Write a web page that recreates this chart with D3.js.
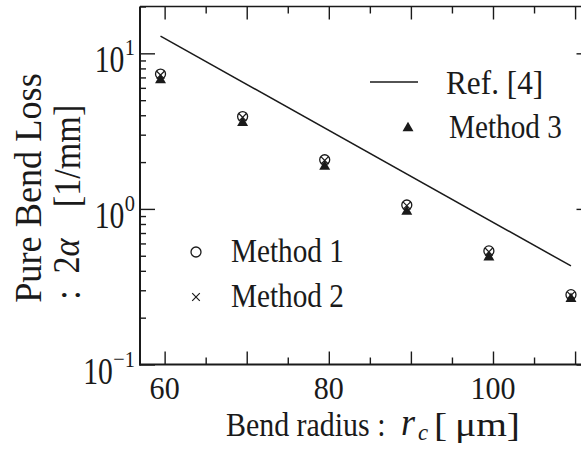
<!DOCTYPE html>
<html><head><meta charset="utf-8">
<script src="https://cdn.jsdelivr.net/npm/d3@7"></script>
<style>
html,body{margin:0;padding:0;background:#fff;}
svg{display:block;}
text{font-family:"Liberation Serif","Times New Roman",serif;fill:#1a1a1a;}
</style></head>
<body>
<svg id="chart" width="581" height="452"></svg>
<script>
// ---- data ----
const radius = [59.5, 69.5, 79.5, 89.5, 99.5, 109.5];
const method1 = [7.36, 3.92, 2.07, 1.06, 0.537, 0.281];
const method2 = [7.25, 3.88, 2.05, 1.05, 0.53, 0.278];
const method3 = [6.74, 3.58, 1.87, 0.96, 0.489, 0.264];
const refRadius = [59.5, 109.5];
const ref4 = [12.9, 0.43];
const xMajorTicks = [60, 70, 80, 90, 100, 110];
const xMinorTicks = [65, 75, 85, 95, 105];
const xTickLabels = [60, 80, 100];
const yMajorTicks = [0.1, 1, 10];
const yTickExp = ["\u22121", "0", "1"];
const legendLabels = ["Ref. [4]", "Method 3", "Method 1", "Method 2"];

const svg = d3.select("#chart");
const ink = "#1a1a1a";
const L = 140, R = 591.5, T = 6.5, B = 364.5;
const x = d3.scaleLinear().domain([57, 112]).range([L, R]);
const y = d3.scaleLog().domain([0.1, 20]).range([B, T]);

function txt(px, py, str, size, sx, anchor, rot) {
  return svg.append("text")
    .attr("transform", `translate(${px},${py})` + (rot ? ` rotate(${rot})` : "") + ` scale(${sx},1)`)
    .attr("font-size", size)
    .attr("text-anchor", anchor || "start")
    .text(str);
}

// ---- frame ----
svg.append("line").attr("x1", L).attr("x2", L).attr("y1", T).attr("y2", B + 1).attr("stroke", ink).attr("stroke-width", 2);
svg.append("line").attr("x1", L - 1).attr("x2", R).attr("y1", B).attr("y2", B).attr("stroke", ink).attr("stroke-width", 2);
svg.append("line").attr("x1", L).attr("x2", R).attr("y1", T).attr("y2", T).attr("stroke", ink).attr("stroke-width", 1.5);
svg.append("line").attr("x1", R).attr("x2", R).attr("y1", T).attr("y2", B).attr("stroke", ink).attr("stroke-width", 1.5);

// x ticks bottom & top
const xAxisB = d3.axisBottom(x).tickValues(xMajorTicks).tickSize(-13).tickFormat("");
const xAxisBm = d3.axisBottom(x).tickValues(xMinorTicks).tickSize(-7).tickFormat("");
const xAxisT = d3.axisTop(x).tickValues(xMajorTicks).tickSize(-13).tickFormat("");
const xAxisTm = d3.axisTop(x).tickValues(xMinorTicks).tickSize(-7).tickFormat("");
[[xAxisB, B], [xAxisBm, B], [xAxisT, T], [xAxisTm, T]].forEach(([ax, pos]) => {
  const g = svg.append("g").attr("transform", `translate(0,${pos})`).call(ax);
  g.select(".domain").remove();
  g.selectAll(".tick line").attr("stroke", ink).attr("stroke-width", 1.4);
});

// y ticks left & right
const yMinor = [];
[0.1, 1, 10].forEach(d => { for (let k = 2; k <= 9; k++) { const v = d * k; if (v <= 20) yMinor.push(v); } });
const yAxL = d3.axisLeft(y).tickValues(yMajorTicks).tickSize(-15).tickFormat("");
const yAxLm = d3.axisLeft(y).tickValues(yMinor).tickSize(-6).tickFormat("");
const yAxR = d3.axisRight(y).tickValues(yMajorTicks).tickSize(-15).tickFormat("");
const yAxRm = d3.axisRight(y).tickValues(yMinor).tickSize(-6).tickFormat("");
[[yAxL, L], [yAxLm, L], [yAxR, R], [yAxRm, R]].forEach(([ax, pos]) => {
  const g = svg.append("g").attr("transform", `translate(${pos},0)`).call(ax);
  g.select(".domain").remove();
  g.selectAll(".tick line").attr("stroke", ink).attr("stroke-width", 1.4);
});

// x tick labels
xTickLabels.forEach(v => txt(x(v), 399, String(v), 31, 0.97, "middle"));

// y tick labels 10^n
yMajorTicks.forEach((v, i) => {
  const sup = txt(135, y(v) + 2, yTickExp[i], 24, 0.85, "end");
  const w = sup.node().getBBox().width * 0.85;
  txt(135 - w - 0.5, y(v) + 19, "10", 38, 0.78, "end");
});

// axis titles
txt(226, 436, "Bend radius :", 34, 0.88, "start");
svg.append("text").attr("transform", "translate(401,435) scale(0.95,1)").attr("font-size", 38)
  .attr("font-style", "italic").text("r");
svg.append("text").attr("transform", "translate(418,440) scale(0.95,1)").attr("font-size", 24)
  .attr("font-style", "italic").text("c");
svg.append("text").attr("transform", "translate(434,436)").attr("font-size", 34)
  .attr("textLength", 86).attr("lengthAdjust", "spacingAndGlyphs").text("[\u2009\u03bcm]");

txt(41, 188, "Pure Bend Loss", 39, 0.93, "middle", -90);
txt(80, 295, ":", 38, 0.9, "middle", -90);
const yl2 = svg.append("text")
  .attr("transform", "translate(79,256) rotate(-90) scale(0.9,1)")
  .attr("font-size", 38).attr("text-anchor", "middle");
yl2.append("tspan").text("2");
yl2.append("tspan").attr("font-style", "italic").text("\u03b1");
txt(80, 156, "[1/mm]", 38, 0.9, "middle", -90);

// ---- marks ----
const line = d3.line().x((d, i) => x(refRadius[i])).y(d => y(d));
svg.append("path").datum(ref4).attr("d", line).attr("fill", "none").attr("stroke", ink).attr("stroke-width", 1.5);

const tri = d3.symbol().type(d3.symbolTriangle).size(52);
svg.append("g").selectAll("path").data(method3).join("path")
  .attr("transform", (d, i) => `translate(${x(radius[i])},${y(d)})`)
  .attr("d", tri).attr("fill", ink);

svg.append("g").selectAll("circle").data(method1).join("circle")
  .attr("cx", (d, i) => x(radius[i])).attr("cy", d => y(d)).attr("r", 5)
  .attr("fill", "none").attr("stroke", ink).attr("stroke-width", 1.3);

function crossPath(s) { return `M${-s},${-s}L${s},${s}M${-s},${s}L${s},${-s}`; }
svg.append("g").selectAll("path").data(method2).join("path")
  .attr("transform", (d, i) => `translate(${x(radius[i])},${y(d)})`)
  .attr("d", crossPath(3.8)).attr("fill", "none").attr("stroke", ink).attr("stroke-width", 1.2);

// ---- legends ----
svg.append("line").attr("x1", 370).attr("x2", 418).attr("y1", 82).attr("y2", 82).attr("stroke", ink).attr("stroke-width", 1.5);
txt(446, 94, legendLabels[0], 34, 0.92, "start");
svg.append("path").attr("transform", "translate(408,128)").attr("d", tri).attr("fill", ink);
txt(449, 138, legendLabels[1], 34, 0.86, "start");
svg.append("circle").attr("cx", 196).attr("cy", 252).attr("r", 5).attr("fill", "none").attr("stroke", ink).attr("stroke-width", 1.3);
txt(231, 262, legendLabels[2], 34, 0.86, "start");
svg.append("path").attr("transform", "translate(196,297)").attr("d", crossPath(3.8)).attr("fill", "none").attr("stroke", ink).attr("stroke-width", 1.2);
txt(231, 307, legendLabels[3], 34, 0.86, "start");
</script>
</body></html>
